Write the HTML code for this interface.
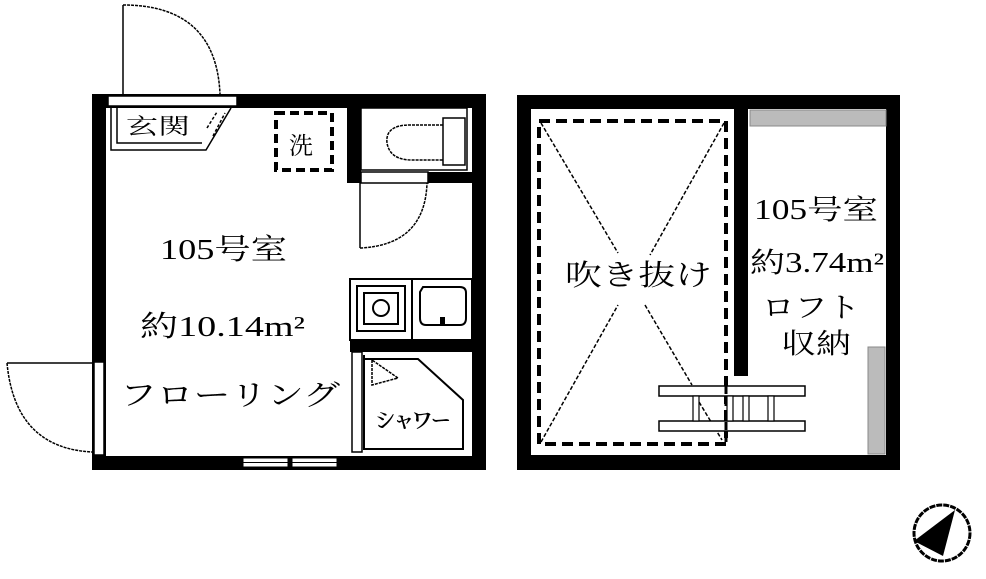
<!DOCTYPE html>
<html><head><meta charset="utf-8"><style>
html,body{margin:0;padding:0;background:#fff;}
svg{display:block}
text{font-family:"Liberation Serif","Noto Serif CJK SC","Noto Sans CJK JP",serif;fill:#000}
</style></head><body>
<svg width="986" height="579" viewBox="0 0 986 579" xmlns="http://www.w3.org/2000/svg">
<rect x="92" y="94" width="394" height="376" fill="#000"/>
<rect x="106" y="108" width="366" height="348" fill="#fff"/>
<rect x="108" y="96" width="129" height="10" fill="#fff" stroke="#000" stroke-width="1.5"/>
<line x1="123" y1="5" x2="123" y2="95" stroke="#000" stroke-width="1.5"/>
<path d="M123 5 Q216 5 220 94" fill="none" stroke="#000" stroke-width="1.5" stroke-dasharray="3,1"/>
<path d="M111 108 V150 H206 L231 108" fill="none" stroke="#000" stroke-width="1.5"/>
<path d="M117 108 V143 H202" fill="none" stroke="#000" stroke-width="1.5"/>
<line x1="207" y1="128" x2="217" y2="112" stroke="#000" stroke-width="1.5" stroke-dasharray="3,2"/>
<line x1="213" y1="136" x2="225" y2="113" stroke="#000" stroke-width="1.5" stroke-dasharray="3,2"/>
<text x="126" y="134" font-size="22" textLength="64" lengthAdjust="spacingAndGlyphs">玄関</text>
<rect x="276" y="113" width="56" height="57" fill="none" stroke="#000" stroke-width="4" stroke-dasharray="9,5"/>
<text x="289" y="154" font-size="24">洗</text>
<rect x="347" y="108" width="14" height="75" fill="#000"/>
<rect x="361" y="172" width="111" height="11" fill="#000"/>
<rect x="361" y="172" width="67" height="11" fill="#fff" stroke="#000" stroke-width="1.5"/>
<rect x="361" y="108" width="106" height="62" fill="none" stroke="#000" stroke-width="1.5"/>
<path d="M443 118 V165 H465 V118 Z" fill="none" stroke="#000" stroke-width="1.5"/>
<path d="M443 125 H410 Q385 125 387 143 Q390 160 412 160 H443" fill="none" stroke="#000" stroke-width="1.5" stroke-dasharray="3,1"/>
<line x1="360" y1="183" x2="360" y2="248" stroke="#000" stroke-width="1.5"/>
<path d="M360 248 Q425 245 427 183" fill="none" stroke="#000" stroke-width="1.5" stroke-dasharray="3,1"/>
<rect x="350" y="279" width="122" height="61" fill="none" stroke="#000" stroke-width="2"/>
<line x1="412" y1="279" x2="412" y2="340" stroke="#000" stroke-width="2"/>
<rect x="357" y="286" width="48" height="45" fill="none" stroke="#000" stroke-width="2"/>
<rect x="364" y="293" width="34" height="31" fill="none" stroke="#000" stroke-width="2"/>
<circle cx="381" cy="308" r="8" fill="none" stroke="#000" stroke-width="2"/>
<path d="M423 287 H460 Q466 287 466 293 V318 Q466 325 460 325 H426 Q420 325 420 318 V292 Z" fill="none" stroke="#000" stroke-width="2"/>
<rect x="440" y="317" width="5" height="9" fill="#000"/>
<rect x="350" y="340" width="122" height="12" fill="#000"/>
<rect x="352" y="352" width="10" height="100" fill="#fff" stroke="#000" stroke-width="1.5"/>
<path d="M364 355 V449 H463 V400 L418 359 H364" fill="none" stroke="#000" stroke-width="2"/>
<path d="M372 360 V385 L398 378 Z" fill="none" stroke="#000" stroke-width="1.5" stroke-dasharray="3,1"/>
<text x="376" y="428" font-size="22" textLength="74" lengthAdjust="spacingAndGlyphs">ｼｬﾜｰ</text>
<rect x="94" y="362" width="10" height="93" fill="#fff" stroke="#000" stroke-width="1.5"/>
<line x1="7" y1="363" x2="92" y2="363" stroke="#000" stroke-width="1.5"/>
<path d="M7 363 Q15 448 92 452" fill="none" stroke="#000" stroke-width="1.5" stroke-dasharray="3,1"/>
<rect x="243" y="458" width="45" height="9" fill="#fff" stroke="#000" stroke-width="1"/>
<rect x="292" y="458" width="45" height="9" fill="#fff" stroke="#000" stroke-width="1"/>
<line x1="243" y1="462.5" x2="337" y2="462.5" stroke="#000" stroke-width="1"/>
<text x="160" y="259" font-size="29" textLength="127" lengthAdjust="spacingAndGlyphs">105号室</text>
<text x="140" y="336" font-size="29" textLength="165" lengthAdjust="spacingAndGlyphs">約10.14m²</text>
<text x="120" y="405" font-size="29" textLength="220" lengthAdjust="spacingAndGlyphs">フローリング</text>

<rect x="517" y="95" width="383" height="375" fill="#000"/>
<rect x="531" y="109" width="355" height="346" fill="#fff"/>
<rect x="734" y="109" width="14" height="267" fill="#000"/>
<rect x="750" y="110" width="136" height="16" fill="#bbb" stroke="#888" stroke-width="1"/>
<rect x="868" y="347" width="17" height="107" fill="#bbb" stroke="#888" stroke-width="1"/>
<rect x="539" y="121" width="187" height="323" fill="none" stroke="#000" stroke-width="4" stroke-dasharray="11,6"/>
<line x1="541" y1="123" x2="618" y2="253" stroke="#000" stroke-width="1.5" stroke-dasharray="4,2"/>
<line x1="724" y1="123" x2="650" y2="255" stroke="#000" stroke-width="1.5" stroke-dasharray="4,2"/>
<line x1="541" y1="442" x2="618" y2="305" stroke="#000" stroke-width="1.5" stroke-dasharray="4,2"/>
<line x1="645" y1="305" x2="692" y2="385" stroke="#000" stroke-width="1.5" stroke-dasharray="4,2"/>
<line x1="696" y1="397" x2="722" y2="440" stroke="#000" stroke-width="1.5" stroke-dasharray="4,2"/>
<rect x="659" y="386" width="146" height="10" fill="#fff" stroke="#000" stroke-width="1.5"/>
<rect x="659" y="421" width="146" height="10" fill="#fff" stroke="#000" stroke-width="1.5"/>
<rect x="693" y="396" width="6" height="25" fill="#fff" stroke="#000" stroke-width="1.2"/>
<rect x="727" y="396" width="6" height="25" fill="#fff" stroke="#000" stroke-width="1.2"/>
<rect x="743" y="396" width="6" height="25" fill="#fff" stroke="#000" stroke-width="1.2"/>
<rect x="768" y="396" width="6" height="25" fill="#fff" stroke="#000" stroke-width="1.2"/>
<line x1="726" y1="386" x2="726" y2="446" stroke="#000" stroke-width="3" stroke-dasharray="8,4"/>
<text x="565" y="285" font-size="29" textLength="147" lengthAdjust="spacingAndGlyphs">吹き抜け</text>
<text x="754" y="219" font-size="28" textLength="124" lengthAdjust="spacingAndGlyphs">105号室</text>
<text x="750" y="272" font-size="28" textLength="134" lengthAdjust="spacingAndGlyphs">約3.74m²</text>
<text x="762" y="317" font-size="28" textLength="98" lengthAdjust="spacingAndGlyphs">ロフト</text>
<text x="781" y="353" font-size="28" textLength="70" lengthAdjust="spacingAndGlyphs">収納</text>

<circle cx="942" cy="533" r="28" fill="#fff" stroke="#000" stroke-width="3" stroke-dasharray="6,1"/>
<path d="M955 510 L914 541 L943 556 Z" fill="#000"/>
</svg>
</body></html>
